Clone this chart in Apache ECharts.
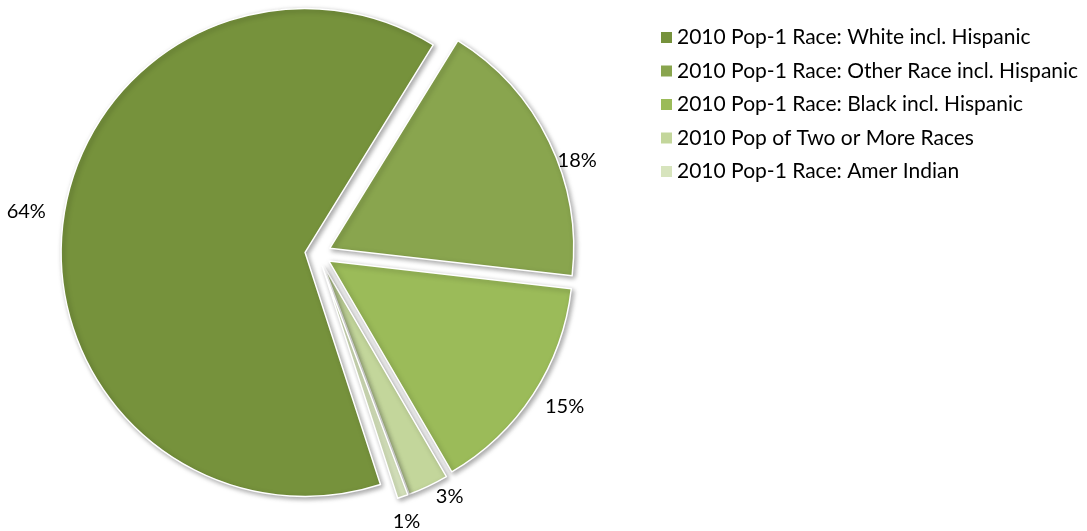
<!DOCTYPE html>
<html>
<head>
<meta charset="utf-8">
<script src="https://cdn.jsdelivr.net/npm/echarts@6/dist/echarts.min.js"></script>
<style>
  html, body { margin: 0; padding: 0; background: #fff; }
  #chart { width: 1087px; height: 531px; }
</style>
</head>
<body>
<div id="chart"></div>
<script>
// 2010 population by race (share, %)
const categories = [
  '2010 Pop-1 Race: White incl. Hispanic',
  '2010 Pop-1 Race: Other Race incl. Hispanic',
  '2010 Pop-1 Race: Black incl. Hispanic',
  '2010 Pop of Two or More Races',
  '2010 Pop-1 Race: Amer Indian'
]
const shares = [63.8, 18.0, 14.8, 2.7, 0.7]
const colors = ['#76923C', '#89A54E', '#9BBB59', '#C3D69B', '#D7E4BD']

// small nudges so the % labels sit where Excel puts them
const labelNudge = [[0, -11], [-8, 22], [-4, 9], [-24, 5], [-23, 7]]

const chart = echarts.init(document.getElementById('chart'))

const option = {
  animation: false,
  color: colors,
  legend: {
    orient: 'vertical',
    left: 656,
    top: 20,
    itemWidth: 11,
    itemHeight: 11,
    itemGap: 8.5,
    icon: 'rect',
    itemStyle: { borderWidth: 0, shadowBlur: 0 },
    textStyle: { fontFamily: 'Lato', fontSize: 21, color: '#000', lineHeight: 25 },
    data: categories
  },
  series: [{
    type: 'pie',
    center: [318, 254],
    radius: 244,
    startAngle: -72,
    clockwise: true,
    selectedMode: 'multiple',
    selectedOffset: 13,
    avoidLabelOverlap: true,
    itemStyle: {
      borderColor: '#fff',
      borderWidth: 1.5,
      shadowBlur: 5,
      shadowOffsetX: 2,
      shadowOffsetY: 2,
      shadowColor: 'rgba(0,0,0,0.35)'
    },
    label: {
      show: true,
      position: 'outside',
      formatter: p => Math.round(p.percent) + '%',
      fontFamily: 'Lato',
      fontSize: 20,
      color: '#000'
    },
    labelLine: { show: false, length: 6, length2: 6 },
    labelLayout: p => ({ dx: labelNudge[p.dataIndex][0], dy: labelNudge[p.dataIndex][1] }),
    emphasis: { disabled: true },
    data: categories.map((name, i) => ({ name, value: shares[i], selected: true }))
  }]
}

chart.setOption(option)
</script>
</body>
</html>
